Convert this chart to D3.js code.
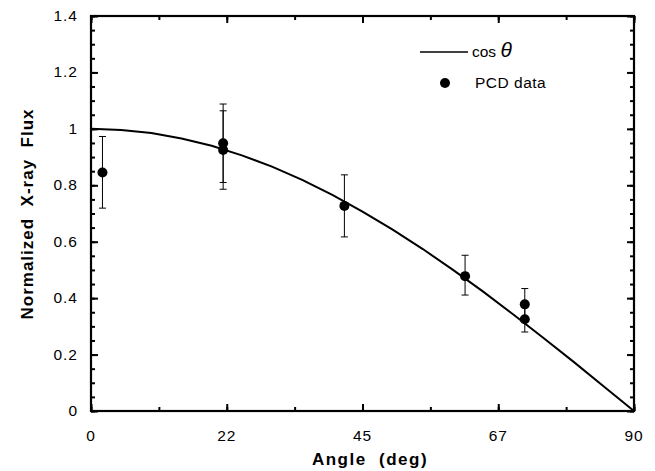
<!DOCTYPE html>
<html><head><meta charset="utf-8">
<script src="https://cdn.jsdelivr.net/npm/d3@7"></script>
<style>body{margin:0;background:#fff}text{font-family:"Liberation Sans",Arial,Helvetica,sans-serif}</style>
</head><body>
<svg id="c" width="655" height="471"></svg>
<script>
// curve: cos(theta)
const curveAngle = [0,5,10,15,20,25,30,35,40,45,50,55,60,65,70,75,80,85,90];
const curveValue = [1.0,0.996,0.985,0.966,0.94,0.906,0.866,0.819,0.766,0.707,0.643,0.574,0.5,0.423,0.342,0.259,0.174,0.087,0];
// PCD data
const pcdAngle = [1.9, 21.9, 21.9, 42, 62, 71.9, 71.9];
const pcdValue = [0.845, 0.949, 0.925, 0.727, 0.478, 0.378, 0.325];
const pcdLow   = [0.719, 0.810, 0.786, 0.617, 0.411, 0.325, 0.280];
const pcdHigh  = [0.973, 1.088, 1.064, 0.837, 0.552, 0.434, 0.370];
const xTickVals = [0, 22.5, 45, 67.5, 90];
const xTickLabels = ["0","22","45","67","90"];
const yTickVals = [0,0.2,0.4,0.6,0.8,1.0,1.2,1.4];
const yTickLabels = ["0","0.2","0.4","0.6","0.8","1","1.2","1.4"];

const svg = d3.select("#c");
const L=91, R=634, T=16, B=411;
const x = d3.scaleLinear().domain([0,90]).range([L,R]);
const y = d3.scaleLinear().domain([0,1.4]).range([B,T]);

const g = svg.append("g");
const xMinor = d3.range(0,90.01,11.25);
const yMinor = d3.range(0,1.401,0.05);
// bottom
g.append("g").attr("transform",`translate(0,${B})`).call(d3.axisTop(x).tickValues(xMinor).tickSize(4).tickFormat(""));
g.append("g").attr("transform",`translate(0,${B})`).call(d3.axisTop(x).tickValues(xTickVals).tickSize(7).tickFormat(""));
// top
g.append("g").attr("transform",`translate(0,${T})`).call(d3.axisBottom(x).tickValues(xMinor).tickSize(4).tickFormat(""));
g.append("g").attr("transform",`translate(0,${T})`).call(d3.axisBottom(x).tickValues(xTickVals).tickSize(7).tickFormat(""));
// left
g.append("g").attr("transform",`translate(${L},0)`).call(d3.axisRight(y).tickValues(yMinor).tickSize(4).tickFormat(""));
g.append("g").attr("transform",`translate(${L},0)`).call(d3.axisRight(y).tickValues(yTickVals).tickSize(7).tickFormat(""));
// right
g.append("g").attr("transform",`translate(${R},0)`).call(d3.axisLeft(y).tickValues(yMinor).tickSize(4).tickFormat(""));
g.append("g").attr("transform",`translate(${R},0)`).call(d3.axisLeft(y).tickValues(yTickVals).tickSize(7).tickFormat(""));
g.selectAll(".domain").remove();
g.selectAll(".tick line").attr("stroke","#000").attr("stroke-width",2);

// frame
svg.append("rect").attr("x",L).attr("y",T).attr("width",R-L).attr("height",B-T)
  .attr("fill","none").attr("stroke","#000").attr("stroke-width",2.2);

// tick labels
svg.append("g").selectAll("text").data(xTickVals).join("text")
  .attr("x",d=>x(d)).attr("y",441).attr("text-anchor","middle")
  .attr("font-size",15.5).attr("letter-spacing",1).text((d,i)=>xTickLabels[i]);
svg.append("g").selectAll("text").data(yTickVals).join("text")
  .attr("x",78).attr("y",d=>y(d)+5).attr("text-anchor","end")
  .attr("font-size",15.5).attr("letter-spacing",1).text((d,i)=>yTickLabels[i]);

// axis titles
svg.append("text").attr("x",370).attr("y",465).attr("text-anchor","middle")
  .attr("font-size",17).attr("font-weight","bold").attr("letter-spacing",1.5).attr("xml:space","preserve").text("Angle  (deg)");
svg.append("text").attr("transform",`translate(33,214) rotate(-90)`).attr("text-anchor","middle")
  .attr("font-size",17).attr("font-weight","bold").attr("letter-spacing",1).attr("xml:space","preserve").text("Normalized  X-ray  Flux");

// curve
const line = d3.line().x((d,i)=>x(curveAngle[i])).y(d=>y(d));
svg.append("path").datum(curveValue).attr("d",line).attr("fill","none").attr("stroke","#000").attr("stroke-width",2);

// error bars
const eb = svg.append("g").attr("stroke","#000").attr("stroke-width",1);
pcdAngle.forEach((a,i)=>{
  const cx=x(a);
  eb.append("line").attr("x1",cx).attr("x2",cx).attr("y1",y(pcdLow[i])).attr("y2",y(pcdHigh[i]));
  eb.append("line").attr("x1",cx-3.5).attr("x2",cx+3.5).attr("y1",y(pcdLow[i])).attr("y2",y(pcdLow[i]));
  eb.append("line").attr("x1",cx-3.5).attr("x2",cx+3.5).attr("y1",y(pcdHigh[i])).attr("y2",y(pcdHigh[i]));
});
svg.append("g").selectAll("circle").data(pcdValue).join("circle")
  .attr("cx",(d,i)=>x(pcdAngle[i])).attr("cy",d=>y(d)).attr("r",5).attr("fill","#000");

// legend
svg.append("line").attr("x1",420).attr("x2",468).attr("y1",52).attr("y2",52).attr("stroke","#000").attr("stroke-width",1.3);
const lt = svg.append("text").attr("x",472).attr("y",57).attr("font-size",15.5);
lt.append("tspan").text("cos ");
lt.append("tspan").attr("font-size",21).attr("font-style","italic").text("θ");
svg.append("circle").attr("cx",445).attr("cy",83).attr("r",5).attr("fill","#000");
svg.append("text").attr("x",475).attr("y",88).attr("font-size",15.5).attr("letter-spacing",0.5).text("PCD data");
</script>
</body></html>
